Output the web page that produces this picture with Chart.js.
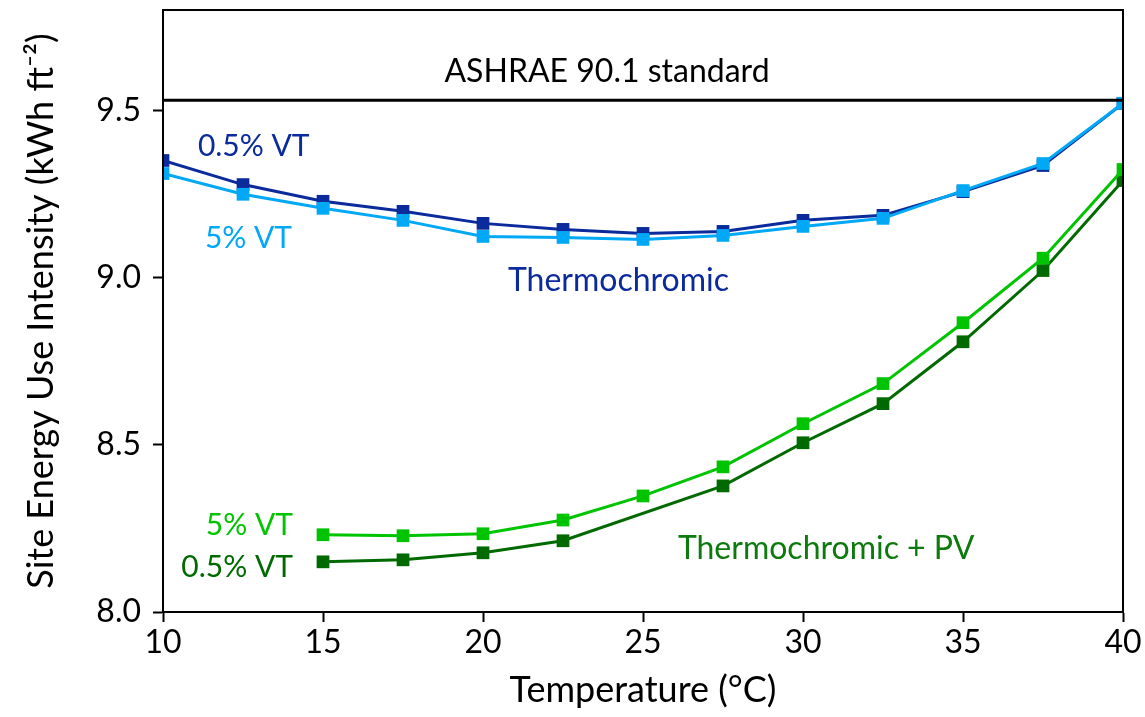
<!DOCTYPE html>
<html>
<head>
<meta charset="utf-8">
<script src="https://cdn.jsdelivr.net/npm/chart.js@4"></script>
<style>
html, body { margin: 0; padding: 0; background: #fff; }
#wrap { width: 1145px; height: 717px; }
</style>
</head>
<body>
<div id="wrap"><canvas id="graphique"></canvas></div>
<script>
// valeurs
const temperatures = [10, 12.5, 15, 17.5, 20, 22.5, 25, 27.5, 30, 32.5, 35, 37.5, 40];
const thermo05 = [9.350, 9.278, 9.228, 9.198, 9.162, 9.144, 9.132, 9.138, 9.171, 9.186, 9.257, 9.335, 9.521];
const thermo5 = [9.311, 9.249, 9.207, 9.171, 9.123, 9.120, 9.114, 9.126, 9.153, 9.177, 9.260, 9.341, 9.521];
const pv5 = [null, null, 8.231, 8.228, 8.234, 8.275, 8.347, 8.434, 8.563, 8.683, 8.865, 9.058, 9.323];
const pv05 = [null, null, 8.150, 8.156, 8.177, 8.213, null, 8.377, 8.506, 8.623, 8.808, 9.021, 9.290];
const ashrae = 9.53;
const xTicks = [10, 15, 20, 25, 30, 35, 40];
const yTicks = [8.0, 8.5, 9.0, 9.5];

const FONT = "Lato";

function serie(valeurs){
    return temperatures.map((t, i) => ({x: t, y: valeurs[i]}));
}

function ligne(label, valeurs, couleur){
    return {
        label: label,
        data: serie(valeurs),
        borderColor: couleur,
        backgroundColor: couleur,
        borderWidth: 3,
        pointStyle: "rect",
        pointRadius: 9,
        pointBorderWidth: 0,
        spanGaps: true,
        tension: 0
    };
}

// textes posés sur le graphique (coordonnées en unités des axes)
const notes = [
    {text: "ASHRAE 90.1 standard", x: 23.875, y: 9.617, color: "#000000", align: "center", size: 32},
    {text: "0.5% VT", x: 11.09, y: 9.392, color: "#0b2a9b", align: "left", size: 30},
    {text: "5% VT", x: 11.31, y: 9.117, color: "#00a8f5", align: "left", size: 30},
    {text: "Thermochromic", x: 20.78, y: 8.991, color: "#0b2a9b", align: "left", size: 32},
    {text: "5% VT", x: 14.06, y: 8.260, color: "#00c400", align: "right", size: 30},
    {text: "0.5% VT", x: 14.06, y: 8.135, color: "#006a00", align: "right", size: 30},
    {text: "Thermochromic + PV", x: 26.09, y: 8.189, color: "#0d7a0d", align: "left", size: 32}
];

const pluginTextes = {
    id: "textes",
    afterDatasetsDraw(chart){
        const ctx = chart.ctx;
        const sx = chart.scales.x;
        const sy = chart.scales.y;
        ctx.save();
        ctx.textBaseline = "middle";
        for(let n of notes){
            ctx.font = n.size + "px " + FONT;
            ctx.fillStyle = n.color;
            ctx.textAlign = n.align;
            ctx.fillText(n.text, sx.getPixelForValue(n.x), sy.getPixelForValue(n.y));
        }
        ctx.restore();
    }
};

const pluginCadre = {
    id: "cadre",
    afterDraw(chart){
        const a = chart.chartArea;
        const ctx = chart.ctx;
        ctx.save();
        ctx.strokeStyle = "#000";
        ctx.lineWidth = 2;
        ctx.strokeRect(a.left, a.top, a.right - a.left, a.bottom - a.top);
        ctx.restore();
    }
};

const data = {
    datasets: [
        {
            label: "ASHRAE 90.1 standard",
            data: [{x: 10, y: ashrae}, {x: 40, y: ashrae}],
            borderColor: "#000",
            borderWidth: 3,
            pointRadius: 0
        },
        ligne("Thermochromic 5% VT", thermo5, "#00a8f5"),
        ligne("Thermochromic 0.5% VT", thermo05, "#0b2a9b"),
        ligne("Thermochromic + PV 5% VT", pv5, "#00c400"),
        ligne("Thermochromic + PV 0.5% VT", pv05, "#006a00")
    ]
};

const config = {
    type: "line",
    data: data,
    options: {
        responsive: true,
        maintainAspectRatio: false,
        animation: false,
        layout: {padding: {top: 10, right: 22, left: 0, bottom: 0}},
        plugins: {
            legend: {display: false},
            tooltip: {enabled: false}
        },
        scales: {
            x: {
                type: "linear",
                min: 10,
                max: 40,
                afterBuildTicks: (scale) => { scale.ticks = xTicks.map(v => ({value: v})); },
                afterFit: (scale) => { scale.height = 105; scale.paddingLeft = 0; scale.paddingRight = 0; },
                grid: {drawOnChartArea: false, tickLength: 10, color: "#000", tickWidth: 2},
                border: {color: "#000", width: 2},
                ticks: {color: "#000", font: {family: FONT, size: 32}, padding: 1, maxRotation: 0},
                title: {display: true, text: "Temperature (°C)", color: "#000", font: {family: FONT, size: 36}, padding: {top: 0, bottom: 5}}
            },
            y: {
                type: "linear",
                min: 8.0,
                max: 9.8,
                afterBuildTicks: (scale) => { scale.ticks = yTicks.map(v => ({value: v})); },
                afterFit: (scale) => { scale.width = 163; scale.paddingTop = 0; scale.paddingBottom = 0; },
                grid: {drawOnChartArea: false, tickLength: 10, color: "#000", tickWidth: 2},
                border: {color: "#000", width: 2},
                ticks: {color: "#000", font: {family: FONT, size: 32}, padding: 12, callback: (v) => v.toFixed(1)},
                title: {display: true, text: "Site Energy Use Intensity (kWh ft⁻²)", color: "#000", font: {family: FONT, size: 36}, padding: {top: 20, bottom: 0}}
            }
        }
    },
    plugins: [pluginTextes, pluginCadre]
};

new Chart(document.querySelector("#graphique"), config);
</script>
</body>
</html>
